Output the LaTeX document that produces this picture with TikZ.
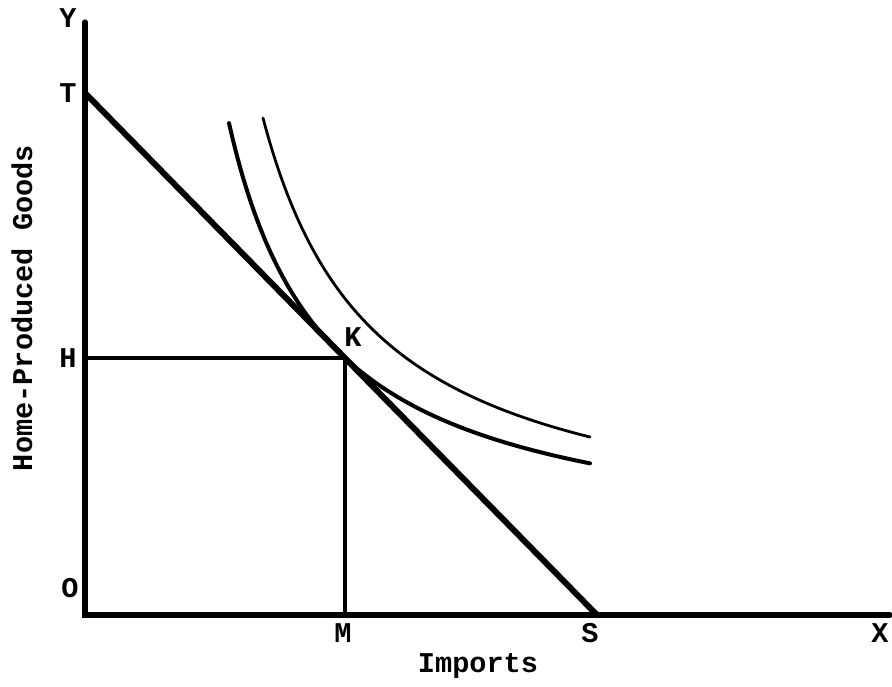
\documentclass[tikz,border=0pt]{standalone}
\usepackage{fontspec}
\setmonofont{Liberation Mono}
\usepackage{tikz}
\usetikzlibrary{positioning,calc}

\begin{document}
\begin{tikzpicture}[x=0.5pt,y=0.5pt,
  axis/.style={line width=2.6pt,line cap=round},
  budget/.style={line width=3pt},
  guide/.style={line width=2pt},
  icurve/.style={line width=2pt,line cap=round},
  icurvethin/.style={line width=1.4pt,line cap=round},
  lbl/.style={font=\fontsize{14.3}{17}\selectfont\ttfamily\bfseries,inner sep=0pt}]
  \useasboundingbox (-85,-71) rectangle (807,615);
  % points on the axes
  \coordinate (O) at (0,0);
  \coordinate (Y) at (0,593);
  \coordinate (X) at (805,0);
  \coordinate (T) at (0,522);
  \coordinate (S) at (512,0);
  \coordinate (K) at (260,257);
  \coordinate (H) at (O|-K);
  \coordinate (M) at (O-|K);
  % axes, budget line and guides
  \draw[axis] (Y)--(O)--(X);
  \draw[budget] (T)--(S);
  \draw[guide] (H)--(K)--(M);
  % indifference curves
  \draw[icurve] plot[domain=144:505,samples=80,smooth] (\x,{59.9+420.51/((\x-46.65)/100)});
  \draw[icurvethin] plot[domain=178:505,samples=80,smooth] (\x,{67.9+484.20/((\x-65.16)/100)});
  % labels
  \node[lbl] (ylab) at (-17,597) {Y};
  \node[lbl] (tlab) at (-17,522) {T};
  \node[lbl] (hlab) at (-17,257) {H};
  \node[lbl] (olab) at (-15,27) {O};
  \node[lbl] (klab) at (268,278) {K};
  \node[lbl] (mlab) at (258,-18) {M};
  \node[lbl] (slab) at (505,-18) {S};
  \node[lbl] (xlab) at (795,-18) {X};
  \node[lbl] (xtitle) at (393,-51) {Imports};
  \node[lbl,rotate=90] (ytitle) at (-63,307) {Home-Produced Goods};
\end{tikzpicture}
\end{document}
